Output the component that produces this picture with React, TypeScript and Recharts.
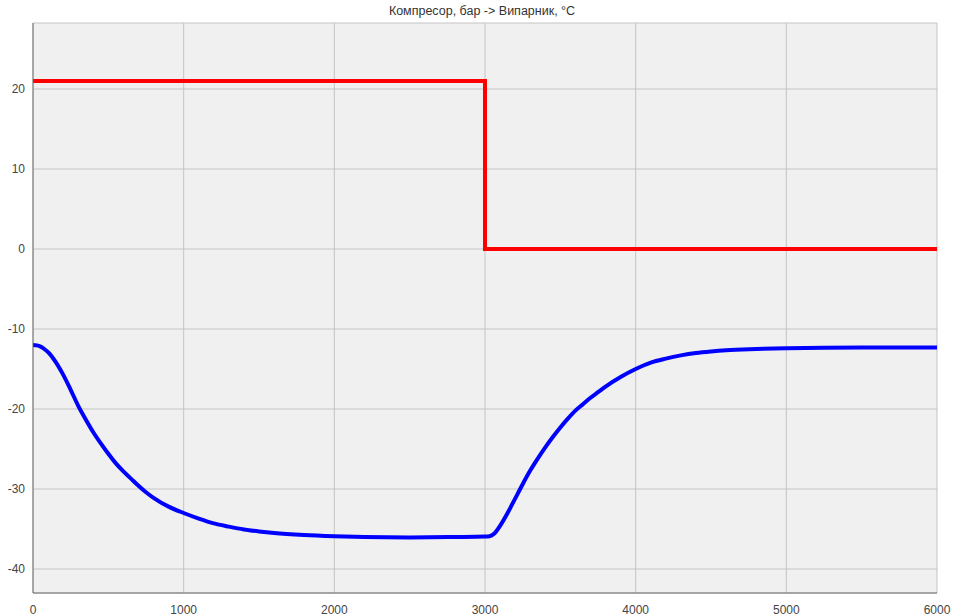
import React from 'react';
import { LineChart, Line, XAxis, YAxis, CartesianGrid } from 'recharts';

const title = 'Компресор, бар -> Випарник, °C';
const xTicks = [0, 1000, 2000, 3000, 4000, 5000, 6000];
const yTicks = [-40, -30, -20, -10, 0, 10, 20];

const compressorTime = [0, 3000, 6000];
const compressorValue = [21, 0, 0];

const evapTime = [0, 25, 50, 75, 100, 150, 200, 250, 300, 350, 400, 450, 500, 550, 600, 650, 700, 750, 800, 900, 1000, 1100, 1200, 1300, 1400, 1500, 1600, 1800, 2000, 2200, 2500, 2800, 3000, 3030, 3060, 3100, 3150, 3200, 3250, 3300, 3350, 3400, 3450, 3500, 3550, 3600, 3650, 3700, 3750, 3800, 3900, 4000, 4100, 4200, 4300, 4400, 4500, 4600, 4800, 5000, 5500, 6000];
const evapValue = [-12, -12.05, -12.2, -12.5, -12.9, -14.1, -15.7, -17.6, -19.6, -21.3, -22.9, -24.3, -25.6, -26.8, -27.8, -28.7, -29.6, -30.4, -31.1, -32.2, -33, -33.7, -34.3, -34.7, -35.05, -35.3, -35.5, -35.75, -35.9, -36, -36.05, -36, -35.95, -35.9, -35.6, -34.6, -33, -31.2, -29.4, -27.7, -26.2, -24.8, -23.5, -22.3, -21.2, -20.2, -19.4, -18.6, -17.9, -17.2, -16, -15, -14.2, -13.7, -13.3, -13, -12.8, -12.65, -12.5, -12.4, -12.3, -12.3];

const compressorData = compressorTime.map((t, i) => ({ t, v: compressorValue[i] }));
const evapData = evapTime.map((t, i) => ({ t, v: evapValue[i] }));

const frame = '#6e6e6e';
const grid = '#c4c4c4';
const tickStyle = { fill: '#444', fontSize: 12, fontFamily: 'Liberation Sans, Arial, sans-serif' };

export default function App() {
  return (
    <div style={{ position: 'absolute', left: 0, top: 0, width: 957, height: 616, background: '#fff' }}>
      <div style={{ position: 'absolute', left: 0, top: 4, width: 964, textAlign: 'center', fontSize: 12.5, lineHeight: '15px', color: '#333', fontFamily: 'Liberation Sans, Arial, sans-serif' }}>
        {title}
      </div>
      <LineChart width={957} height={616} margin={{ top: 23, right: 20, bottom: 0, left: 0 }}>
        <CartesianGrid stroke={grid} fill="#f0f0f0" xAxisId="bottom" yAxisId="left" />
        <XAxis xAxisId="bottom" dataKey="t" type="number" domain={[0, 6000]} ticks={xTicks} allowDataOverflow
          height={23} stroke={frame} tickLine={false} tick={tickStyle} tickMargin={6} />
        <XAxis xAxisId="top" orientation="top" dataKey="t" type="number" domain={[0, 6000]} height={0}
          stroke={frame} tick={false} tickLine={false} />
        <YAxis yAxisId="left" type="number" domain={[-43, 28.25]} ticks={yTicks} allowDataOverflow
          width={33} stroke={frame} tickLine={false} tick={tickStyle} tickMargin={2} />
        <YAxis yAxisId="right" orientation="right" type="number" domain={[-43, 28.25]} width={0}
          stroke={frame} tick={false} tickLine={false} />
        <Line xAxisId="bottom" yAxisId="left" data={compressorData} dataKey="v" type="stepAfter"
          stroke="#ff0000" strokeWidth={4} dot={false} isAnimationActive={false} />
        <Line xAxisId="bottom" yAxisId="left" data={evapData} dataKey="v" type="monotone"
          stroke="#0000ff" strokeWidth={4} dot={false} isAnimationActive={false} />
      </LineChart>
    </div>
  );
}
